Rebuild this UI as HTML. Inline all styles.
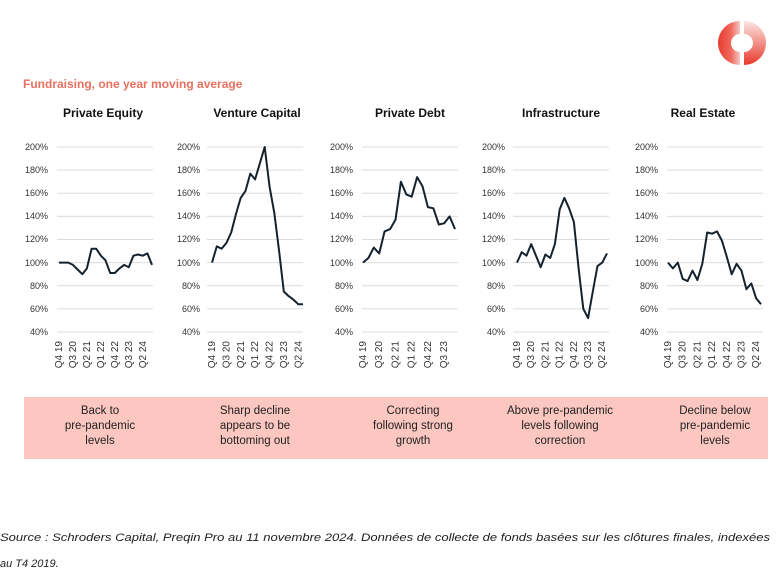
<!DOCTYPE html>
<html><head><meta charset="utf-8"><style>
html,body{margin:0;padding:0;background:#fff;}
svg{display:block;font-family:"Liberation Sans",sans-serif;}
.g line{stroke:#dcdcdc;stroke-width:1}
.yl{font-size:9px;fill:#333;text-anchor:end}
.xl{font-size:10px;fill:#333;text-anchor:end}
.t{font-size:12px;font-weight:bold;fill:#111;text-anchor:middle}
.s{fill:none;stroke:#14222e;stroke-width:2;stroke-linejoin:round}
.b{font-size:11.5px;fill:#222;text-anchor:middle}
</style></head><body>
<svg width="778" height="576" viewBox="0 0 778 576">
<defs><linearGradient id="lg" x1="0" x2="1"><stop offset="0" stop-color="#e8392c"/><stop offset="0.6" stop-color="#ef6a5f"/><stop offset="1" stop-color="#f5c7c2"/></linearGradient>
<linearGradient id="rg" x1="0" x2="0" y1="0" y2="1"><stop offset="0" stop-color="#fbe6e3"/><stop offset="1" stop-color="#e8392c"/></linearGradient></defs>
<path d="M740 21 A22 22 0 0 0 740 65 L740 52 A9 9 0 0 1 740 34 Z" fill="url(#lg)"/>
<path d="M744 21 A22 22 0 0 1 744 65 L744 52 A9 9 0 0 0 744 34 Z" fill="url(#rg)"/>
<text x="23" y="88" style="font-size:12px;font-weight:bold;fill:#e8705f">Fundraising, one year moving average</text>
<text class="t" x="103" y="117">Private Equity</text>
<text class="t" x="257" y="117">Venture Capital</text>
<text class="t" x="410" y="117">Private Debt</text>
<text class="t" x="561" y="117">Infrastructure</text>
<text class="t" x="703" y="117">Real Estate</text>
<g class="g">
<g id="gl"><line x1="57" x2="153" y1="147" y2="147"/><line x1="57" x2="153" y1="170.1" y2="170.1"/><line x1="57" x2="153" y1="193.3" y2="193.3"/><line x1="57" x2="153" y1="216.4" y2="216.4"/><line x1="57" x2="153" y1="239.5" y2="239.5"/><line x1="57" x2="153" y1="262.6" y2="262.6"/><line x1="57" x2="153" y1="285.8" y2="285.8"/><line x1="57" x2="153" y1="308.9" y2="308.9"/><line x1="57" x2="153" y1="332" y2="332"/></g>
<use href="#gl" transform="translate(150,0)"/>
<use href="#gl" transform="translate(305,0)"/>
<use href="#gl" transform="translate(456,0)"/>
<use href="#gl" transform="translate(610,0)"/>
</g>
<g class="yl">
<text x="48" y="150">200%</text><text x="48" y="173">180%</text><text x="48" y="196">160%</text><text x="48" y="219">140%</text><text x="48" y="242">120%</text><text x="48" y="266">100%</text><text x="48" y="289">80%</text><text x="48" y="312">60%</text><text x="48" y="335">40%</text>
<text x="200" y="150">200%</text><text x="200" y="173">180%</text><text x="200" y="196">160%</text><text x="200" y="219">140%</text><text x="200" y="242">120%</text><text x="200" y="266">100%</text><text x="200" y="289">80%</text><text x="200" y="312">60%</text><text x="200" y="335">40%</text>
<text x="353" y="150">200%</text><text x="353" y="173">180%</text><text x="353" y="196">160%</text><text x="353" y="219">140%</text><text x="353" y="242">120%</text><text x="353" y="266">100%</text><text x="353" y="289">80%</text><text x="353" y="312">60%</text><text x="353" y="335">40%</text>
<text x="505" y="150">200%</text><text x="505" y="173">180%</text><text x="505" y="196">160%</text><text x="505" y="219">140%</text><text x="505" y="242">120%</text><text x="505" y="266">100%</text><text x="505" y="289">80%</text><text x="505" y="312">60%</text><text x="505" y="335">40%</text>
<text x="658" y="150">200%</text><text x="658" y="173">180%</text><text x="658" y="196">160%</text><text x="658" y="219">140%</text><text x="658" y="242">120%</text><text x="658" y="266">100%</text><text x="658" y="289">80%</text><text x="658" y="312">60%</text><text x="658" y="335">40%</text>
</g>
<g class="xl">
<text transform="translate(62,341) rotate(-90)">Q4 19</text><text transform="translate(76,341) rotate(-90)">Q3 20</text><text transform="translate(90,341) rotate(-90)">Q2 21</text><text transform="translate(104,341) rotate(-90)">Q1 22</text><text transform="translate(118,341) rotate(-90)">Q4 22</text><text transform="translate(132,341) rotate(-90)">Q3 23</text><text transform="translate(146,341) rotate(-90)">Q2 24</text>
<text transform="translate(215,341) rotate(-90)">Q4 19</text><text transform="translate(229.4,341) rotate(-90)">Q3 20</text><text transform="translate(243.8,341) rotate(-90)">Q2 21</text><text transform="translate(258.2,341) rotate(-90)">Q1 22</text><text transform="translate(272.6,341) rotate(-90)">Q4 22</text><text transform="translate(287,341) rotate(-90)">Q3 23</text><text transform="translate(301.4,341) rotate(-90)">Q2 24</text>
<text transform="translate(366,341) rotate(-90)">Q4 19</text><text transform="translate(382.2,341) rotate(-90)">Q3 20</text><text transform="translate(398.4,341) rotate(-90)">Q2 21</text><text transform="translate(414.6,341) rotate(-90)">Q1 22</text><text transform="translate(430.8,341) rotate(-90)">Q4 22</text><text transform="translate(447,341) rotate(-90)">Q3 23</text>
<text transform="translate(520,341) rotate(-90)">Q4 19</text><text transform="translate(534.2,341) rotate(-90)">Q3 20</text><text transform="translate(548.4,341) rotate(-90)">Q2 21</text><text transform="translate(562.6,341) rotate(-90)">Q1 22</text><text transform="translate(576.8,341) rotate(-90)">Q4 22</text><text transform="translate(591,341) rotate(-90)">Q3 23</text><text transform="translate(605.2,341) rotate(-90)">Q2 24</text>
<text transform="translate(671,341) rotate(-90)">Q4 19</text><text transform="translate(685.7,341) rotate(-90)">Q3 20</text><text transform="translate(700.4,341) rotate(-90)">Q2 21</text><text transform="translate(715.1,341) rotate(-90)">Q1 22</text><text transform="translate(729.8,341) rotate(-90)">Q4 22</text><text transform="translate(744.5,341) rotate(-90)">Q3 23</text><text transform="translate(759.2,341) rotate(-90)">Q2 24</text>
</g>
<polyline class="s" points="59,262.6 63.7,262.6 68.3,262.6 73,264.9 77.6,269.5 82.3,274.2 86.9,268.4 91.6,248.7 96.2,248.7 100.9,255.7 105.5,260.3 110.2,273 114.8,273 119.5,268.4 124.1,264.9 128.8,267.2 133.4,255.7 138.1,254.5 142.7,255.7 147.4,253.4 152,264.9"/>
<polyline class="s" points="212,262.6 216.8,246.4 221.6,248.7 226.4,243 231.2,232.5 236,214 240.7,197.9 245.5,190.9 250.3,173.6 255.1,179.4 259.9,163.2 264.7,147 269.5,186.3 274.3,212.9 279.1,251 283.8,291.5 288.6,296.1 293.4,299.6 298.2,304.2 303,304.2"/>
<polyline class="s" points="363,262.6 368.4,258 373.8,247.6 379.2,253.4 384.6,231.4 390.1,229.1 395.5,219.8 400.9,181.7 406.3,194.4 411.7,196.7 417.1,177.1 422.5,186.3 427.9,207.1 433.4,208.3 438.8,224.5 444.2,223.3 449.6,216.4 455,229.1"/>
<polyline class="s" points="517,262.6 521.7,252.2 526.5,255.7 531.2,244.1 536,255.7 540.7,267.2 545.4,254.5 550.2,258 554.9,244.1 559.7,209.4 564.4,197.9 569.1,208.3 573.9,222.1 578.6,268.4 583.3,308.8 588.1,318.1 592.8,291.5 597.5,266.1 602.3,262.6 607,253.4"/>
<polyline class="s" points="668,262.6 672.9,268.4 677.8,262.6 682.7,278.8 687.6,281.1 692.5,270.7 697.4,280 702.3,263.8 707.2,232.5 712.1,233.7 717,231.4 721.9,240.6 726.8,256.8 731.7,274.2 736.6,263.8 741.5,270.7 746.4,289.2 751.3,283.4 756.2,298.4 761,304.2"/>
<rect x="24" y="397" width="744" height="62" fill="#fbc7c0"/>
<g class="b">
<text x="100" y="414">Back to</text><text x="100" y="429">pre-pandemic</text><text x="100" y="444">levels</text>
<text x="255" y="414">Sharp decline</text><text x="255" y="429">appears to be</text><text x="255" y="444">bottoming out</text>
<text x="413" y="414">Correcting</text><text x="413" y="429">following strong</text><text x="413" y="444">growth</text>
<text x="560" y="414">Above pre-pandemic</text><text x="560" y="429">levels following</text><text x="560" y="444">correction</text>
<text x="715" y="414">Decline below</text><text x="715" y="429">pre-pandemic</text><text x="715" y="444">levels</text>
</g>
<text x="0" y="541" textLength="770" lengthAdjust="spacingAndGlyphs" style="font-size:11px;font-style:italic;fill:#222">Source : Schroders Capital, Preqin Pro au 11 novembre 2024. Données de collecte de fonds basées sur les clôtures finales, indexées</text>
<text x="0" y="567" style="font-size:11px;font-style:italic;fill:#222">au T4 2019.</text>
</svg>
</body></html>
